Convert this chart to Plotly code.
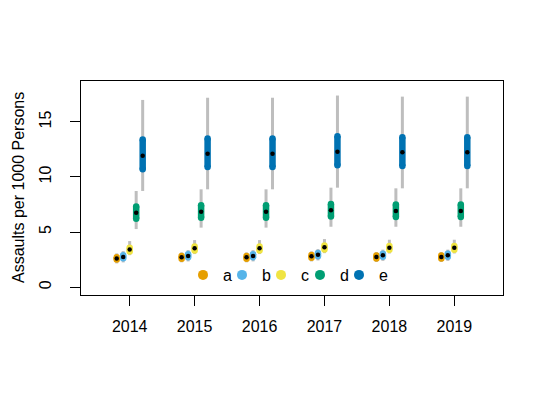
import plotly.graph_objects as go

years = [2014, 2015, 2016, 2017, 2018, 2019]
groups = ["a", "b", "c", "d", "e"]
colors = ["#E69F00", "#56B4E9", "#F0E442", "#009E73", "#0072B2"]

a_median = [2.60, 2.70, 2.70, 2.79, 2.73, 2.73]
a_in_lo = [2.50, 2.58, 2.58, 2.66, 2.60, 2.60]
a_in_hi = [2.72, 2.82, 2.82, 2.92, 2.86, 2.86]
a_out_lo = [2.15, 2.25, 2.25, 2.33, 2.28, 2.28]
a_out_hi = [3.06, 3.15, 3.15, 3.24, 3.18, 3.18]

b_median = [2.73, 2.82, 2.82, 2.94, 2.88, 2.88]
b_in_lo = [2.62, 2.70, 2.70, 2.81, 2.76, 2.76]
b_in_hi = [2.88, 2.98, 2.98, 3.10, 3.03, 3.03]
b_out_lo = [2.24, 2.33, 2.33, 2.42, 2.38, 2.38]
b_out_hi = [3.27, 3.36, 3.36, 3.45, 3.40, 3.40]

c_median = [3.42, 3.52, 3.52, 3.61, 3.58, 3.58]
c_in_lo = [3.24, 3.33, 3.33, 3.42, 3.39, 3.39]
c_in_hi = [3.58, 3.68, 3.68, 3.78, 3.72, 3.72]
c_out_lo = [2.90, 3.00, 3.00, 3.08, 3.05, 3.05]
c_out_hi = [4.18, 4.27, 4.27, 4.36, 4.30, 4.30]

d_median = [6.76, 6.85, 6.85, 6.97, 6.91, 6.91]
d_in_lo = [6.20, 6.30, 6.30, 6.42, 6.36, 6.36]
d_in_hi = [7.33, 7.43, 7.43, 7.55, 7.50, 7.50]
d_out_lo = [5.27, 5.40, 5.40, 5.48, 5.48, 5.48]
d_out_hi = [8.73, 8.88, 8.88, 9.03, 8.97, 8.97]

e_median = [11.94, 12.10, 12.10, 12.30, 12.24, 12.24]
e_in_lo = [10.70, 10.90, 10.90, 11.06, 11.00, 11.00]
e_in_hi = [13.40, 13.50, 13.50, 13.70, 13.60, 13.60]
e_out_lo = [8.73, 8.88, 8.88, 9.03, 8.97, 8.97]
e_out_hi = [17.00, 17.20, 17.20, 17.40, 17.30, 17.30]

series = {
    "a": (a_median, a_in_lo, a_in_hi, a_out_lo, a_out_hi),
    "b": (b_median, b_in_lo, b_in_hi, b_out_lo, b_out_hi),
    "c": (c_median, c_in_lo, c_in_hi, c_out_lo, c_out_hi),
    "d": (d_median, d_in_lo, d_in_hi, d_out_lo, d_out_hi),
    "e": (e_median, e_in_lo, e_in_hi, e_out_lo, e_out_hi),
}
offsets = [-0.2, -0.1, 0.0, 0.1, 0.2]

# page body has an 8px margin; target screen coordinates are converted below
PAGE = 8
W, H = 545, 396
BOX_L, BOX_R, BOX_T, BOX_B = 81, 503, 81, 295  # screen px of the plot box
ML, MT = BOX_L - PAGE, BOX_T - PAGE
PW, PH = BOX_R - BOX_L, BOX_B - BOX_T
MR, MB = W - ML - PW, H - MT - PH


def px_x(p):
    return (p - BOX_L) / PW


def px_y(p):
    return (BOX_B - p) / PH


FONT = "Liberation Sans, Arial, sans-serif"
FS = 16
fig = go.Figure()

for gi, g in enumerate(groups):
    med, ilo, ihi, olo, ohi = series[g]
    xs = [yr + offsets[gi] for yr in years]
    gx, gy = [], []
    tx, ty = [], []
    for x, lo, hi in zip(xs, olo, ohi):
        gx += [x, x, None]
        gy += [lo, hi, None]
    for x, lo, hi in zip(xs, ilo, ihi):
        tx += [x, x, None]
        ty += [lo, hi, None]
    fig.add_trace(go.Scatter(x=gx, y=gy, mode="lines",
                             line=dict(color="#BEBEBE", width=3),
                             showlegend=False, hoverinfo="skip"))
    fig.add_trace(go.Scatter(x=tx, y=ty, mode="lines",
                             line=dict(color=colors[gi], width=6.5),
                             showlegend=False, hoverinfo="skip"))
    fig.add_trace(go.Scatter(x=xs + xs, y=ilo + ihi, mode="markers",
                             marker=dict(color=colors[gi], size=6.5, line=dict(width=0)),
                             showlegend=False, hoverinfo="skip"))
    fig.add_trace(go.Scatter(x=xs, y=med, mode="markers",
                             marker=dict(color="black", size=4.5, line=dict(width=0)),
                             showlegend=False))

legend_px = [204, 243, 282, 321, 360]
legend_layout = {}
for gi, g in enumerate(groups):
    lname = "legend" if gi == 0 else f"legend{gi + 1}"
    fig.add_trace(go.Scatter(x=[None], y=[None], mode="markers", name=g,
                             marker=dict(color=colors[gi], size=10),
                             showlegend=True, legend=lname))
    legend_layout[lname] = dict(
        x=px_x(legend_px[gi] - 21), xanchor="left",
        y=px_y(275), yanchor="middle",
        bgcolor="rgba(0,0,0,0)", borderwidth=0,
        font=dict(family=FONT, size=16, color="black"),
        orientation="h",
    )

axis_common = dict(showline=True, mirror=True, linecolor="black", linewidth=1,
                   ticks="outside", ticklen=10, tickcolor="black", tickwidth=1,
                   showgrid=False, zeroline=False,
                   tickfont=dict(family=FONT, size=FS, color="black"))

fig.update_layout(
    width=W, height=H,
    margin=dict(l=ML, r=MR, t=MT, b=MB),
    paper_bgcolor="white", plot_bgcolor="white",
    xaxis=dict(range=[2013.25, 2019.75], tickvals=years,
               ticktext=[str(y) for y in years], ticklabelstandoff=7, **axis_common),
    yaxis=dict(range=[-0.72, 18.72], tickvals=[0, 5, 10, 15], tickangle=-90,
               ticklabelstandoff=13, **axis_common),
    annotations=[dict(text="Assaults per 1000 Persons", xref="paper", yref="paper",
                      x=px_x(18), y=0.5, xanchor="center", yanchor="middle",
                      textangle=-90, showarrow=False, borderpad=0,
                      font=dict(family=FONT, size=16, color="black"))],
    **legend_layout,
)

fig.write_html("out.html")
